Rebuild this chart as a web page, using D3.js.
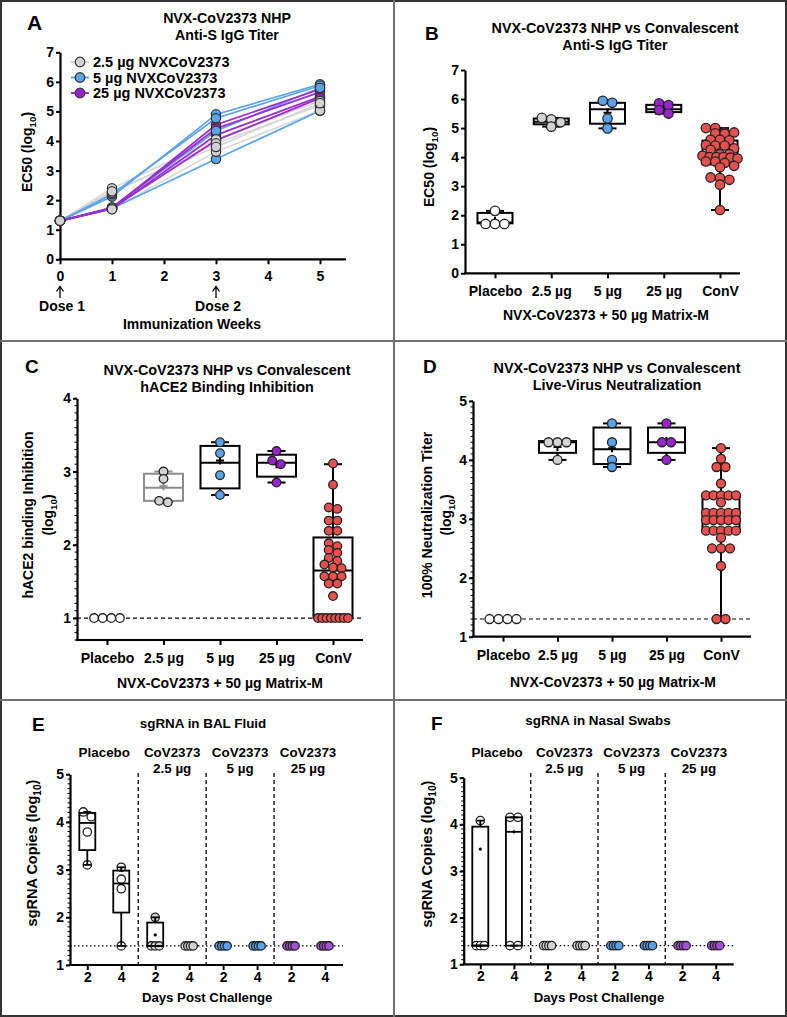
<!DOCTYPE html>
<html><head><meta charset="utf-8">
<script src="https://cdn.jsdelivr.net/npm/d3@7/dist/d3.min.js"></script>
<style>
body{margin:0;background:#fff;}
svg text{font-family:"Liberation Sans",Arial,sans-serif;font-weight:bold;fill:#000;}
</style></head><body>
<svg id="c" width="787" height="1017"></svg>
<script>
// ================= DATA =================
// Panel A: anti-S IgG titer over time (one row per animal)
const weeksA = [0, 1, 3, 5];
const weekTicksA = [0, 1, 2, 3, 4, 5];
const yTicksA = [0, 1, 2, 3, 4, 5, 6, 7];
const igG_2_5 = [[1.3, 2.40, 4.06, 5.35], [1.3, 2.25, 3.92, 5.20], [1.3, 1.69, 3.64, 5.03], [1.3, 2.30, 3.80, 5.28]];
const igG_5 = [[1.3, 2.12, 4.90, 5.92], [1.3, 2.20, 4.77, 5.87], [1.3, 1.75, 4.34, 5.80], [1.3, 1.72, 3.39, 5.02]];
const igG_25 = [[1.3, 1.72, 4.55, 5.75], [1.3, 1.75, 4.42, 5.65], [1.3, 1.70, 4.20, 5.50], [1.3, 1.73, 4.02, 5.45]];
const legendA = ["2.5 µg NVXCoV2373", "5 µg NVXCoV2373", "25 µg NVXCoV2373"];

// Panels B-D categories
const cats = ["Placebo", "2.5 µg", "5 µg", "25 µg", "ConV"];

// Panel B: anti-S IgG (EC50 log10)
const yTicksB = [0, 1, 2, 3, 4, 5, 6, 7];
const bPlacebo = [2.15, 1.70, 1.70, 1.70];
const b2_5 = [5.30, 5.05, 5.20, 5.35];
const b5 = [5.94, 5.87, 5.33, 4.99];
const b25 = [5.85, 5.79, 5.62, 5.50];
const bConV = [5.00, 5.00, 4.85, 4.85, 4.82, 4.80, 4.60, 4.60, 4.58, 4.42, 4.40, 4.40, 4.30, 4.25, 4.10, 4.10, 4.05, 4.00, 4.00, 4.00, 3.98, 3.95, 3.85, 3.85, 3.80, 3.70, 3.65, 3.30, 3.28, 3.22, 3.05, 2.18];
// box stats per category: [min, q1, median, q3, max, mean]
const bBox = [[1.70, 1.72, 1.75, 2.08, 2.15, 1.81], [5.05, 5.13, 5.22, 5.33, 5.35, 5.23], [4.99, 5.15, 5.65, 5.87, 5.94, 5.53], [5.50, 5.55, 5.65, 5.80, 5.85, 5.69], [2.18, 3.75, 4.05, 4.57, 5.00, 4.13]];

// Panel C: hACE2 binding inhibition
const yTicksC = [1, 2, 3, 4];
const cPlacebo = [1, 1, 1, 1];
const c2_5 = [3.00, 2.90, 2.60, 2.58];
const c5 = [3.40, 3.25, 2.95, 2.68];
const c25 = [3.28, 3.15, 3.10, 2.85];
const cConV = [3.11, 2.82, 2.51, 2.49, 2.33, 2.33, 2.19, 2.19, 2.02, 1.98, 1.93, 1.89, 1.82, 1.78, 1.73, 1.69, 1.68, 1.57, 1.57, 1.57, 1.47, 1.47, 1.30, 1, 1, 1, 1, 1, 1, 1, 1];
const cBox = [null, [2.58, 2.60, 2.78, 2.97, 3.00, 2.80], [2.68, 2.77, 3.12, 3.35, 3.40, 3.15], [2.85, 2.93, 3.12, 3.23, 3.28, 3.10], [1.00, 1.00, 1.65, 2.10, 3.10, 1.70]];
const cLimit = 1;

// Panel D: live-virus neutralization
const yTicksD = [1, 2, 3, 4, 5];
const dPlacebo = [1.3, 1.3, 1.3, 1.3];
const d2_5 = [4.30, 4.30, 4.30, 4.00];
const d5 = [4.62, 4.30, 4.00, 3.88];
const d25 = [4.62, 4.30, 4.30, 4.00];
const dConV = [4.20, 4.02, 3.88, 3.88, 3.60, 3.40, 3.40, 3.40, 3.40, 3.40, 3.28, 3.10, 3.10, 3.10, 3.10, 3.10, 2.98, 2.98, 2.98, 2.98, 2.98, 2.80, 2.80, 2.80, 2.80, 2.80, 2.68, 2.50, 2.50, 2.50, 2.20, 1.30, 1.30];
const dBox = [null, [4.00, 4.12, 4.30, 4.32, 4.32, 4.22], [3.88, 3.93, 4.18, 4.55, 4.62, 4.20], [4.00, 4.12, 4.30, 4.55, 4.62, 4.32], [1.30, 2.82, 3.00, 3.40, 4.20, 3.05]];
const dLimit = 1.3;

// Panels E/F: sgRNA
const dayKeys = ["P2", "P4", "L2", "L4", "M2", "M4", "H2", "H4"];
const dayLabels = ["2", "4", "2", "4", "2", "4", "2", "4"];
const groupLabels = [["Placebo"], ["CoV2373", "2.5 µg"], ["CoV2373", "5 µg"], ["CoV2373", "25 µg"]];
const yTicksEF = [1, 2, 3, 4, 5];
const sgLimit = 1.4;
const balValues = [[4.21, 4.11, 3.79, 3.10], [3.05, 2.80, 2.60, 1.40], [2.00, 1.40, 1.40, 1.40], [1.4, 1.4, 1.4, 1.4], [1.4, 1.4, 1.4, 1.4], [1.4, 1.4, 1.4, 1.4], [1.4, 1.4, 1.4, 1.4], [1.4, 1.4, 1.4, 1.4]];
const balBox = [[3.10, 3.41, 3.98, 4.19, 4.21, null], [1.40, 2.10, 2.71, 2.98, 3.05, null], [1.40, 1.40, 1.40, 1.89, 2.00, 1.63], null, null, null, null, null];
const nasalValues = [[4.08, 1.40, 1.40, 1.40], [4.15, 4.15, 1.40, 1.40], [1.4, 1.4, 1.4, 1.4], [1.4, 1.4, 1.4, 1.4], [1.4, 1.4, 1.4, 1.4], [1.4, 1.4, 1.4, 1.4], [1.4, 1.4, 1.4, 1.4], [1.4, 1.4, 1.4, 1.4]];
const nasalBox = [[1.40, 1.40, 1.40, 3.95, 4.08, 3.47], [1.40, 1.40, 3.84, 4.15, 4.15, 3.84], null, null, null, null, null, null];

// ================= STYLE =================
const COL = {white: "#ffffff", grey: "#d3d3d3", blue: "#5aa2ea", purple: "#9a24cc", purpleL: "#a652d8", red: "#e8504e"};
const catFill = [COL.white, COL.grey, COL.blue, COL.purple, COL.red];
const dayFill = [COL.white, COL.white, COL.grey, COL.grey, COL.blue, COL.blue, COL.purpleL, COL.purpleL];
const intFmt = d3.format("d");

const svg = d3.select("#c");
svg.append("rect").attr("x", 1).attr("y", 1).attr("width", 785).attr("height", 1015)
  .attr("fill", "none").attr("stroke", "#333").attr("stroke-width", 2);
[[394, 0, 394, 1017], [0, 341, 787, 341], [0, 700, 787, 700]].forEach(l =>
  svg.append("line").attr("x1", l[0]).attr("y1", l[1]).attr("x2", l[2]).attr("y2", l[3])
    .attr("stroke", "#707070").attr("stroke-width", 2));

function text(g, x, y, s, size, anchor) {
  return g.append("text").attr("x", x).attr("y", y).attr("font-size", size)
    .attr("text-anchor", anchor || "middle").text(s);
}
function subLabel(g, x, y, pre, sub, post, size) {
  const t = g.append("text").attr("transform", `translate(${x},${y}) rotate(-90)`)
    .attr("font-size", size).attr("text-anchor", "middle");
  t.append("tspan").text(pre);
  t.append("tspan").attr("dy", size * 0.28).attr("font-size", size * 0.7).text(sub);
  t.append("tspan").attr("dy", -size * 0.28).text(post);
  return t;
}
function rotText(g, x, y, s, size) {
  return g.append("text").attr("transform", `translate(${x},${y}) rotate(-90)`)
    .attr("font-size", size).attr("text-anchor", "middle").text(s);
}
function yAxis(g, x, scale, ticks, size, minorStep) {
  const ax = g.append("g").attr("transform", `translate(${x},0)`)
    .call(d3.axisLeft(scale).tickValues(ticks).tickFormat(intFmt).tickSize(4).tickSizeOuter(0).tickPadding(2));
  ax.attr("font-family", null).attr("font-size", null);
  ax.select(".domain").attr("stroke", "#000").attr("stroke-width", 2.2);
  ax.selectAll(".tick line").attr("stroke", "#000").attr("stroke-width", 2);
  ax.selectAll(".tick text").attr("font-size", size).attr("fill", "#000");
  if (minorStep) {
    const [a, b] = scale.domain();
    const m = d3.range(Math.ceil(a / minorStep - 1e-9), Math.floor(b / minorStep + 1e-9) + 1).map(k => k * minorStep);
    ax.selectAll(".minor").data(m).join("line").attr("class", "minor")
      .attr("x1", -2.5).attr("x2", 0).attr("y1", d => scale(d)).attr("y2", d => scale(d))
      .attr("stroke", "#000").attr("stroke-width", 1);
  }
  return ax;
}
function xAxis(g, y, x0, x1, scale, ticks, fmt, size, pad) {
  g.append("line").attr("x1", x0 - 1).attr("x2", x1).attr("y1", y).attr("y2", y)
    .attr("stroke", "#000").attr("stroke-width", 2.2);
  const ax = g.append("g").attr("transform", `translate(0,${y})`)
    .call(d3.axisBottom(scale).tickValues(ticks).tickFormat(fmt).tickSize(5).tickSizeOuter(0).tickPadding(pad));
  ax.attr("font-family", null).attr("font-size", null);
  ax.select(".domain").remove();
  ax.selectAll(".tick line").attr("stroke", "#000").attr("stroke-width", 2);
  ax.selectAll(".tick text").attr("font-size", size).attr("fill", "#000");
  return ax;
}
// GraphPad-like scatter: points in rows, centered
function swarm(vals, y, sp, maxSpan, rowH) {
  const pts = vals.map(v => ({v, py: y(v)})).sort((a, b) => a.py - b.py);
  const rows = [];
  pts.forEach(p => {
    const r = rows[rows.length - 1];
    if (r && p.py - r.y0 <= rowH) r.items.push(p); else rows.push({y0: p.py, items: [p]});
  });
  rows.forEach(r => {
    const n = r.items.length, s = n > 1 ? Math.min(sp, maxSpan / (n - 1)) : 0;
    r.items.forEach((p, i) => p.dx = (i - (n - 1) / 2) * s);
  });
  return pts;
}
function drawBox(g, cx, st, y, w, cw, col, sw) {
  const [mn, q1, md, q3, mx] = st;
  const L = g.append("g").attr("stroke", col).attr("stroke-width", sw).attr("fill", "none");
  L.append("line").attr("x1", cx).attr("x2", cx).attr("y1", y(mx)).attr("y2", y(q3));
  L.append("line").attr("x1", cx).attr("x2", cx).attr("y1", y(q1)).attr("y2", y(mn));
  L.append("line").attr("x1", cx - cw / 2).attr("x2", cx + cw / 2).attr("y1", y(mx)).attr("y2", y(mx));
  L.append("line").attr("x1", cx - cw / 2).attr("x2", cx + cw / 2).attr("y1", y(mn)).attr("y2", y(mn));
  L.append("rect").attr("x", cx - w / 2).attr("y", y(q3)).attr("width", w).attr("height", Math.max(0, y(q1) - y(q3)));
  L.append("line").attr("x1", cx - w / 2).attr("x2", cx + w / 2).attr("y1", y(md)).attr("y2", y(md));
}
function plus(g, x, y, col) {
  g.append("path").attr("d", `M${x - 4},${y}H${x + 4}M${x},${y - 4}V${y + 4}`)
    .attr("stroke", col).attr("stroke-width", 2).attr("fill", "none");
}
function dots(g, cx, pts, y, r, fill) {
  g.selectAll(null).data(pts).join("circle")
    .attr("cx", d => cx + d.dx).attr("cy", d => d.py).attr("r", r)
    .attr("fill", fill).attr("stroke", "#222").attr("stroke-width", 1.3);
}

// ================= PANEL A =================
(function () {
  const g = svg.append("g");
  const x = d3.scaleLinear().domain([0, 5.5]).range([60, 346]);
  const y = d3.scaleLinear().domain([0, 7]).range([259.3, 52.3]);
  text(g, 27, 30, "A", 21, "start");
  text(g, 227, 23, "NVX-CoV2373 NHP", 14.2);
  text(g, 227, 40, "Anti-S IgG Titer", 14.2);
  yAxis(g, 60, y, yTicksA, 14);
  xAxis(g, 259.3, 60, 346, x, weekTicksA, intFmt, 14, 7);
  subLabel(g, 32, 152, "EC50 (log", "10", ")", 14);
  const line = d3.line().x((d, i) => x(weeksA[i])).y(d => y(d));
  const groups = [[igG_2_5, "#d6d6d6", COL.grey, 1.6], [igG_5, COL.blue, COL.blue, 1.7], [igG_25, "#9a2fcc", COL.purple, 1.8]];
  groups.forEach(([rows, lc, , lw]) => rows.forEach(r =>
    g.append("path").attr("d", line(r)).attr("fill", "none").attr("stroke", lc).attr("stroke-width", lw)));
  [groups[2], groups[1], groups[0]].forEach(([rows, , fc]) => rows.forEach(r =>
    r.forEach((v, i) => g.append("circle").attr("cx", x(weeksA[i])).attr("cy", y(v)).attr("r", 4.7)
      .attr("fill", fc).attr("stroke", "#333").attr("stroke-width", 1.2))));
  // legend
  legendA.forEach((s, i) => {
    const yy = 62 + i * 15.5;
    const lc = ["#d6d6d6", COL.blue, "#9a2fcc"][i];
    g.append("line").attr("x1", 71).attr("x2", 89).attr("y1", yy).attr("y2", yy).attr("stroke", lc).attr("stroke-width", 2);
    g.append("circle").attr("cx", 80).attr("cy", yy).attr("r", 4.8).attr("fill", [COL.grey, COL.blue, COL.purple][i])
      .attr("stroke", "#333").attr("stroke-width", 1.2);
    text(g, 93, yy + 5, s, 14.5, "start");
  });
  // dose arrows
  [[0, "Dose 1"], [3, "Dose 2"]].forEach(([w, s]) => {
    const xx = x(w);
    g.append("path").attr("d", `M${xx},298V287M${xx - 3.5},291.5L${xx},286.5L${xx + 3.5},291.5`)
      .attr("fill", "none").attr("stroke", "#000").attr("stroke-width", 1.3);
    text(g, xx + 2, 311, s, 14);
  });
  text(g, 192, 329, "Immunization Weeks", 14);
})();

// ================= PANELS B-D =================
function boxPanel(o) {
  const g = svg.append("g");
  const x = d3.scalePoint().domain(cats).range(o.xr);
  const y = d3.scaleLinear().domain(o.yd).range(o.yr);
  text(g, o.letter[1], o.letter[2], o.letter[0], 19, "start");
  text(g, o.tx, o.ty[0], o.title[0], 14.4);
  text(g, o.tx, o.ty[1], o.title[1], 14.4);
  yAxis(g, o.ax, y, o.ticks, 14, o.minor);
  xAxis(g, o.yr[0], o.ax, o.axEnd, x, cats, d => d, 14, 8);
  text(g, o.xtx, o.xty, "NVX-CoV2373 + 50 µg Matrix-M", 14);
  if (o.ylab2) {
    rotText(g, o.ylx[0], o.yly, o.ylab, 14);
    subLabel(g, o.ylx[1], o.yly, "(log", "10", ")", 14);
  } else subLabel(g, o.ylx[0], o.yly, "EC50 (log", "10", ")", 14);
  if (o.limit != null)
    g.append("line").attr("x1", o.ax).attr("x2", o.axEnd).attr("y1", y(o.limit)).attr("y2", y(o.limit))
      .attr("stroke", "#000").attr("stroke-width", 1.2).attr("stroke-dasharray", "4,3");
  o.groups.forEach((vals, i) => {
    const cx = x(cats[i]);
    const st = o.box[i];
    const col = o.boxCol && o.boxCol[i] ? o.boxCol[i] : "#000";
    if (st) {
      drawBox(g, cx, st, y, o.bw, 18, col, 2);
      plus(g, cx, y(st[5]), col);
    }
    dots(g, cx, swarm(vals, y, o.r * 2, o.span, o.r), y, o.r, catFill[i]);
  });
}
boxPanel({
  letter: ["B", 425, 40], title: ["NVX-CoV2373 NHP vs Convalescent", "Anti-S IgG Titer"], tx: 615, ty: [33, 50],
  xr: [495, 720], yd: [0, 7], yr: [273.3, 70], ax: 465, axEnd: 740, ticks: yTicksB,
  xtx: 606, xty: 320, ylx: [434], yly: 167, groups: [bPlacebo, b2_5, b5, b25, bConV], box: bBox, bw: 35, r: 4.7, span: 35
});
boxPanel({
  letter: ["C", 25, 373], title: ["NVX-CoV2373 NHP vs Convalescent", "hACE2 Binding Inhibition"], tx: 227, ty: [375, 392],
  xr: [107, 333], yd: [0.7, 4], yr: [640, 398.3], ax: 77, axEnd: 363, ticks: yTicksC, minor: 0.1,
  xtx: 220, xty: 688, ylab: "hACE2 binding Inhibition", ylab2: true, ylx: [33, 53], yly: 515,
  groups: [cPlacebo, c2_5, c5, c25, cConV], box: cBox, boxCol: [null, "#8c8c8c"], bw: 39, r: 4.3, span: 30, limit: cLimit
});
boxPanel({
  letter: ["D", 423, 373], title: ["NVX-CoV2373 NHP vs Convalescent", "Live-Virus Neutralization"], tx: 617, ty: [373, 390],
  xr: [503, 721], yd: [1, 5], yr: [636.7, 401], ax: 473, axEnd: 751, ticks: yTicksD, minor: 0.1,
  xtx: 613, xty: 687, ylab: "100% Neutralization Titer", ylab2: true, ylx: [432, 451], yly: 515,
  groups: [dPlacebo, d2_5, d5, d25, dConV], box: dBox, bw: 37, r: 4.5, span: 30, limit: dLimit
});

// ================= PANELS E/F =================
function sgPanel(o) {
  const g = svg.append("g");
  const x = d3.scalePoint().domain(dayKeys).range(o.xr);
  const y = d3.scaleLinear().domain([1, 5]).range(o.yr);
  text(g, o.letter[1], o.letter[2], o.letter[0], 19, "start");
  text(g, o.tx, o.ty, o.title, 13.4);
  yAxis(g, o.ax, y, yTicksEF, 14, 0.1);
  xAxis(g, o.yr[0], o.ax, o.axEnd, x, dayKeys, (d, i) => dayLabels[i], 14, 2);
  text(g, (o.xr[0] + o.xr[1]) / 2 + 1, 1002, "Days Post Challenge", 13.2);
  subLabel(g, o.ylx, o.yly, "sgRNA Copies (log", "10", ")", 14.5);
  const step = x.step();
  groupLabels.forEach((lab, k) => {
    const cx = (x(dayKeys[2 * k]) + x(dayKeys[2 * k + 1])) / 2;
    lab.forEach((s, j) => text(g, cx, 757 + j * 16, s, 13.4));
    if (k > 0) {
      const sx = x(dayKeys[2 * k]) - step / 2;
      g.append("line").attr("x1", sx).attr("x2", sx).attr("y1", 773).attr("y2", o.yr[0])
        .attr("stroke", "#000").attr("stroke-width", 1.3).attr("stroke-dasharray", "4,3");
    }
  });
  g.append("line").attr("x1", o.ax).attr("x2", o.axEnd).attr("y1", y(sgLimit)).attr("y2", y(sgLimit))
    .attr("stroke", "#000").attr("stroke-width", 1.3).attr("stroke-dasharray", "1.5,2.5");
  o.values.forEach((vals, i) => {
    const cx = x(dayKeys[i]);
    dots(g, cx, swarm(vals, y, 8, 8, 5), y, 4.2, dayFill[i]);
  });
  o.box.forEach((st, i) => {
    if (!st) return;
    const cx = x(dayKeys[i]);
    drawBox(g, cx, st, y, 16, 8, "#000", 1.8);
    if (st[5] != null)
      g.append("circle").attr("cx", cx).attr("cy", y(st[5])).attr("r", 1.6).attr("fill", "#000");
  });
}
sgPanel({
  letter: ["E", 32, 731], title: "sgRNA in BAL Fluid", tx: 203, ty: 728,
  xr: [87.3, 325], yr: [965, 774.3], ax: 70, axEnd: 343, ylx: 37, yly: 853,
  values: balValues, box: balBox
});
sgPanel({
  letter: ["F", 431, 730], title: "sgRNA in Nasal Swabs", tx: 598, ty: 725,
  xr: [480.3, 715.7], yr: [964.3, 777.7], ax: 463.7, axEnd: 733.7, ylx: 432, yly: 854,
  values: nasalValues, box: nasalBox
});
</script>
</body></html>
